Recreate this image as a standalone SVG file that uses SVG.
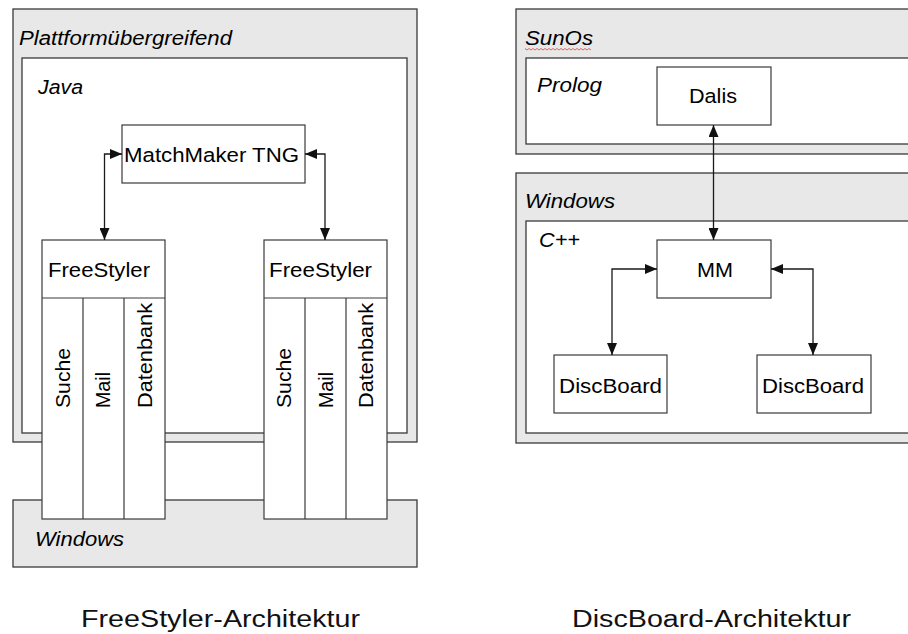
<svg xmlns="http://www.w3.org/2000/svg" width="908" height="634" viewBox="0 0 908 634">
<style>
.bg{fill:#e8e8e8;stroke:#3a3a3a;stroke-width:1.3}
.in{fill:#ffffff;stroke:#3a3a3a;stroke-width:1.3}
.bx{fill:#ffffff;stroke:#3a3a3a;stroke-width:1.2}
.t{font-family:"Liberation Sans",Arial,sans-serif;font-size:20.5px;fill:#000}
.i{font-style:italic}
.ti{font-family:"Liberation Sans",Arial,sans-serif;font-size:23px;fill:#111}
.c{fill:none;stroke:#1a1a1a;stroke-width:1.3}
</style>
<defs>
<marker id="ah" viewBox="0 0 12 10" refX="12" refY="5" markerWidth="12" markerHeight="10" markerUnits="userSpaceOnUse" orient="auto-start-reverse">
<path d="M0,0 L12,5 L0,10 z" fill="#111"/>
</marker>
</defs>
<rect width="908" height="634" fill="#ffffff"/>

<g id="plattform">
<rect class="bg" x="13" y="9" width="404" height="433"/>
<text class="t i" x="19" y="45" textLength="213" lengthAdjust="spacingAndGlyphs">Plattformübergreifend</text>
</g>
<g id="java">
<rect class="in" x="22" y="58" width="385" height="375"/>
<text class="t i" x="38" y="94" textLength="45" lengthAdjust="spacingAndGlyphs">Java</text>
</g>
<g id="windows-left">
<rect class="bg" x="13" y="500" width="404" height="67"/>
<text class="t i" x="35" y="546" textLength="89" lengthAdjust="spacingAndGlyphs">Windows</text>
</g>
<g id="matchmaker">
<rect class="bx" x="122" y="125" width="183" height="58"/>
<text class="t" x="124" y="162" textLength="175" lengthAdjust="spacingAndGlyphs">MatchMaker TNG</text>
</g>
<g id="freestyler-1">
<rect class="bx" x="42" y="240" width="123" height="279"/>
<line class="bx" x1="42" y1="298" x2="165" y2="298"/>
<line class="bx" x1="83" y1="298" x2="83" y2="519"/>
<line class="bx" x1="124" y1="298" x2="124" y2="519"/>
<text class="t" x="48" y="277" textLength="102" lengthAdjust="spacingAndGlyphs">FreeStyler</text>
<text class="t" transform="translate(70,408) rotate(-90)" textLength="60" lengthAdjust="spacingAndGlyphs">Suche</text>
<text class="t" transform="translate(110,408) rotate(-90)" textLength="36" lengthAdjust="spacingAndGlyphs">Mail</text>
<text class="t" transform="translate(152,408) rotate(-90)" textLength="105" lengthAdjust="spacingAndGlyphs">Datenbank</text>
</g>
<g id="freestyler-2">
<rect class="bx" x="264" y="240" width="123" height="279"/>
<line class="bx" x1="264" y1="298" x2="387" y2="298"/>
<line class="bx" x1="305" y1="298" x2="305" y2="519"/>
<line class="bx" x1="346" y1="298" x2="346" y2="519"/>
<text class="t" x="269" y="277" textLength="103" lengthAdjust="spacingAndGlyphs">FreeStyler</text>
<text class="t" transform="translate(291,408) rotate(-90)" textLength="60" lengthAdjust="spacingAndGlyphs">Suche</text>
<text class="t" transform="translate(333,408) rotate(-90)" textLength="36" lengthAdjust="spacingAndGlyphs">Mail</text>
<text class="t" transform="translate(373,408) rotate(-90)" textLength="105" lengthAdjust="spacingAndGlyphs">Datenbank</text>
</g>

<g id="sunos">
<rect class="bg" x="516" y="9" width="410" height="145"/>
<text class="t i" x="525" y="45" textLength="68" lengthAdjust="spacingAndGlyphs">SunOs</text>
<path d="M525,48.5 l2,1.5 l2,-1.5 l2,1.5 l2,-1.5 l2,1.5 l2,-1.5 l2,1.5 l2,-1.5 l2,1.5 l2,-1.5 l2,1.5 l2,-1.5 l2,1.5 l2,-1.5 l2,1.5 l2,-1.5 l2,1.5 l2,-1.5 l2,1.5 l2,-1.5 l2,1.5 l2,-1.5 l2,1.5 l2,-1.5 l2,1.5 l2,-1.5 l2,1.5 l2,-1.5 l2,1.5 l2,-1.5 l2,1.5 l2,-1.5 l2,1.5" fill="none" stroke="#e04040" stroke-width="0.8"/>
</g>
<g id="prolog">
<rect class="in" x="526" y="58" width="400" height="86"/>
<text class="t i" x="537" y="92" textLength="65" lengthAdjust="spacingAndGlyphs">Prolog</text>
</g>
<g id="dalis">
<rect class="bx" x="657" y="67" width="114" height="58"/>
<text class="t" x="713" y="103" text-anchor="middle" textLength="48" lengthAdjust="spacingAndGlyphs">Dalis</text>
</g>
<g id="windows-right">
<rect class="bg" x="516" y="173" width="410" height="270"/>
<text class="t i" x="525" y="208" textLength="90" lengthAdjust="spacingAndGlyphs">Windows</text>
</g>
<g id="cpp">
<rect class="in" x="526" y="221" width="400" height="212"/>
<text class="t i" x="539" y="247" textLength="41" lengthAdjust="spacingAndGlyphs">C++</text>
</g>
<g id="mm">
<rect class="bx" x="657" y="240" width="114" height="58"/>
<text class="t" x="715" y="277" text-anchor="middle" textLength="36" lengthAdjust="spacingAndGlyphs">MM</text>
</g>
<g id="discboard-1">
<rect class="bx" x="554" y="355" width="113" height="58"/>
<text class="t" x="559" y="393" textLength="103" lengthAdjust="spacingAndGlyphs">DiscBoard</text>
</g>
<g id="discboard-2">
<rect class="bx" x="757" y="355" width="114" height="58"/>
<text class="t" x="762" y="393" textLength="102" lengthAdjust="spacingAndGlyphs">DiscBoard</text>
</g>

<g id="connectors">
<path class="c" d="M122,154 H104.5 V240" marker-start="url(#ah)" marker-end="url(#ah)"/>
<path class="c" d="M305,154 H325 V240" marker-start="url(#ah)" marker-end="url(#ah)"/>
<path class="c" d="M713.5,125 V240" marker-start="url(#ah)" marker-end="url(#ah)"/>
<path class="c" d="M657,269 H612 V355" marker-start="url(#ah)" marker-end="url(#ah)"/>
<path class="c" d="M771,269 H813 V355" marker-start="url(#ah)" marker-end="url(#ah)"/>
</g>

<g id="titles">
<text class="ti" x="81" y="627" textLength="279" lengthAdjust="spacingAndGlyphs">FreeStyler-Architektur</text>
<text class="ti" x="572" y="627" textLength="279" lengthAdjust="spacingAndGlyphs">DiscBoard-Architektur</text>
</g>
</svg>
